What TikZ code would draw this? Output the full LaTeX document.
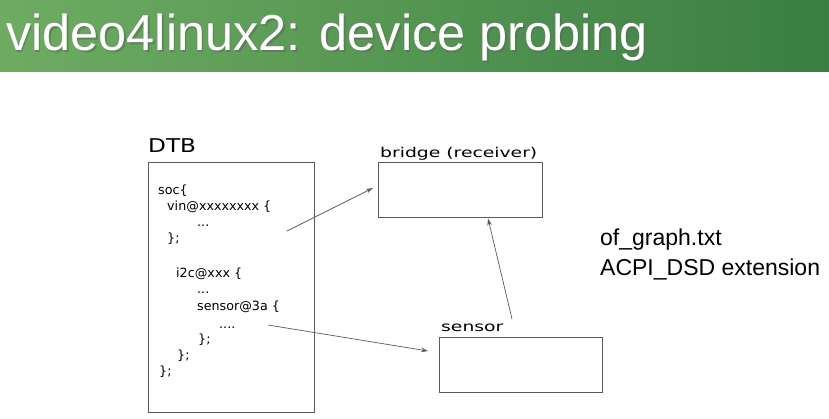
\documentclass[tikz,border=0pt]{standalone}
\usepackage{fontspec}
\setmainfont{Liberation Sans}
\newfontfamily\djv{DejaVu Sans}
\usetikzlibrary{arrows.meta}
\definecolor{hdrL}{RGB}{110,172,98}
\definecolor{hdrR}{RGB}{58,126,66}
\definecolor{edge}{RGB}{90,90,90}
\begin{document}
\begin{tikzpicture}[x=1pt,y=-1pt,
  box/.style={draw=edge,line width=0.9pt,inner sep=0pt,fill=white},
  codeline/.style={anchor=base west,inner sep=0pt,font=\djv\fontsize{12.7}{15}\selectfont},
  lbl/.style={anchor=base west,inner sep=0pt,font=\djv\fontsize{13.5}{16}\selectfont},
  note/.style={anchor=base west,inner sep=0pt,font=\fontsize{23}{27}\selectfont},
  conn/.style={draw=edge,line width=0.7pt,-{Stealth[length=7pt,width=4.5pt]}}]
\useasboundingbox (0,0) rectangle (829,418);
% header
\shade[left color=hdrL,right color=hdrR] (0,0) rectangle (829,71);
\node[anchor=base west,inner sep=0pt,text=black!60,opacity=0.6,font=\fontsize{50.5}{60}\selectfont] (titleshadow) at (7.5,52) {video4linux2: device probing};
\node[anchor=base west,inner sep=0pt,text=white,font=\fontsize{50.5}{60}\selectfont] (title) at (6,50.5) {video4linux2: device probing};
% DTB
\node[box,minimum width=166,minimum height=250] (dtb) at (231,287) {};
\node[anchor=base west,inner sep=0pt,font=\djv\fontsize{19}{22}\selectfont] (dtblabel) at (148,152) {\scalebox{1.22}[1]{DTB}};
\node[codeline] (l1) at (158,194) {soc\{};
\node[codeline] (l2) at (167,210) {vin@xxxxxxxx \{};
\node[codeline] (l3) at (197,226) {...};
\node[codeline] (l4) at (167,242) {\};};
\node[codeline] (l5) at (176,277) {i2c@xxx \{};
\node[codeline] (l6) at (197,293) {...};
\node[codeline] (l7) at (197,310) {sensor@3a \{};
\node[codeline] (l8) at (219,328) {....};
\node[codeline] (l9) at (198,343) {\};};
\node[codeline] (l10) at (177,359) {\};};
\node[codeline] (l11) at (159,375) {\};};
% bridge and sensor
\node[box,minimum width=164,minimum height=55] (bridge) at (460,189.5) {};
\node[lbl] (bridgelabel) at (380,157) {\scalebox{1.39}[1]{bridge (receiver)}};
\node[box,minimum width=163,minimum height=55] (sensor) at (520.5,364.5) {};
\node[lbl] (sensorlabel) at (441,331) {\scalebox{1.39}[1]{sensor}};
% notes
\node[note] (n1) at (600,245) {of\_graph.txt};
\node[note] (n2) at (600,275) {ACPI\_DSD extension};
% connectors
\coordinate (a1s) at (287,231);
\coordinate (a1e) at (373,188);
\coordinate (a2s) at (268,325);
\coordinate (a2e) at (428,351);
\coordinate (a3s) at (512,319);
\coordinate (a3e) at (488,218.5);
\draw[conn] (a1s) -- (a1e);
\draw[conn] (a2s) -- (a2e);
\draw[conn] (a3s) -- (a3e);
\end{tikzpicture}
\end{document}
